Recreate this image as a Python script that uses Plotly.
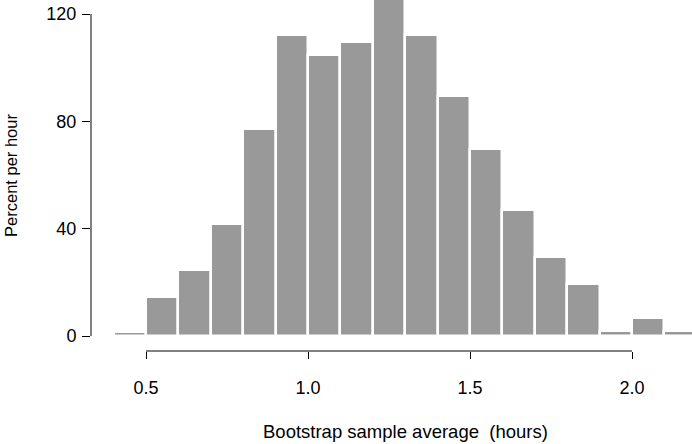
import plotly.graph_objects as go

bin_left = [0.4, 0.5, 0.6, 0.7, 0.8, 0.9, 1.0, 1.1, 1.2, 1.3, 1.4, 1.5, 1.6, 1.7, 1.8, 1.9, 2.0, 2.1]
bin_width = 0.1
percent_per_hour = [1.6, 14.4, 24.5, 41.7, 77.0, 112.1, 104.6, 109.6, 130.0, 112.1,
                     89.6, 69.6, 47.0, 29.4, 19.4, 1.7, 6.8, 1.7]
x_ticks = [0.5, 1.0, 1.5, 2.0]
x_tick_text = ["0.5", "1.0", "1.5", "2.0"]
y_ticks = [0, 40, 80, 120]
y_tick_text = ["0", "40", "80", "120"]
x_title = "Bootstrap sample average  (hours)"
y_title = "Percent per hour"

centers = [b + bin_width / 2 for b in bin_left]

FONT = "Liberation Sans, Arial, sans-serif"

fig = go.Figure(go.Bar(
    x=centers, y=percent_per_hour, width=[bin_width] * len(centers),
    marker=dict(color="#999999", line=dict(color="white", width=2.5)),
    hoverinfo="skip",
))

fig.update_layout(
    width=692, height=444,
    margin=dict(l=91, r=0, t=0, b=93),
    paper_bgcolor="white", plot_bgcolor="white",
    bargap=0, showlegend=False,
    font=dict(family=FONT, color="black", size=18),
    xaxis=dict(range=[0.3302, 2.1852], tickvals=x_ticks, ticktext=x_tick_text,
               ticks="outside", ticklen=7, tickwidth=1, tickcolor="black",
               showline=False, showgrid=False, zeroline=False,
               tickfont=dict(size=18), ticklabelstandoff=13),
    yaxis=dict(range=[-5.59, 125.22], tickvals=y_ticks, ticktext=y_tick_text,
               ticks="outside", ticklen=8, tickwidth=1, tickcolor="black",
               showline=False, showgrid=False, zeroline=False,
               tickfont=dict(size=18), ticklabelstandoff=2,
               title=dict(text=y_title, font=dict(size=16.5), standoff=24)),
    annotations=[dict(text=x_title, xref="paper", yref="paper", x=0.5225, y=-0.228,
                      xanchor="center", yanchor="middle", showarrow=False,
                      font=dict(size=18.5))],
)

# R-style offset axis lines spanning the tick range
fig.add_shape(type="line", xref="paper", yref="y", x0=0, x1=0,
              y0=min(y_ticks), y1=max(y_ticks), line=dict(color="black", width=1))
fig.add_shape(type="line", xref="x", yref="paper", y0=0, y1=0,
              x0=min(x_ticks), x1=max(x_ticks), line=dict(color="black", width=1))

fig.write_html("out.html")
